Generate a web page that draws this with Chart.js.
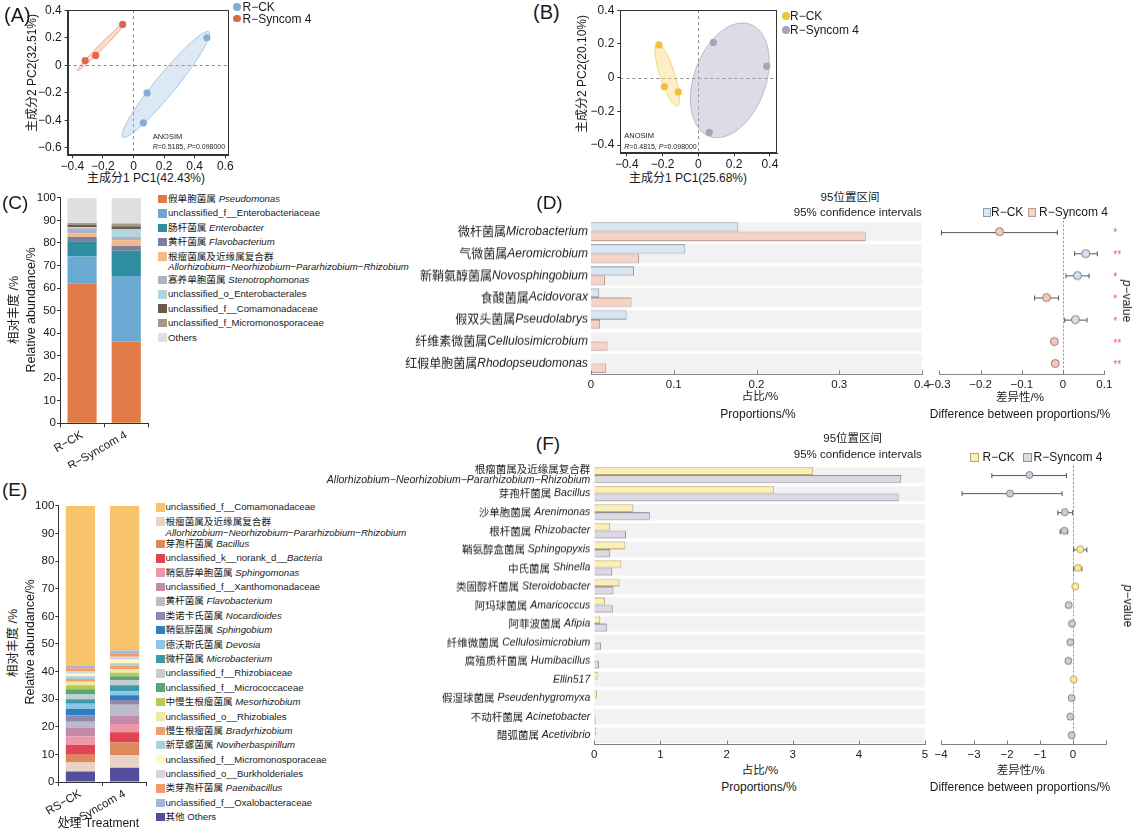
<!DOCTYPE html>
<html><head><meta charset="utf-8">
<script src="https://cdn.jsdelivr.net/npm/chart.js@4.4.1/dist/chart.umd.min.js"></script>
<style>
html,body{margin:0;padding:0;background:#fff;}
body{width:1134px;height:829px;position:relative;overflow:hidden;font-family:"Liberation Sans",Arial,"Noto Sans CJK SC",sans-serif;color:#1a1a1a;}
.box{position:absolute;}
.t{position:absolute;white-space:nowrap;line-height:1;}
.sq{position:absolute;box-sizing:border-box;}
</style></head><body>
<script>
// ================= DATA =================
// (A) PCA
const A_CK_X = [0.48, 0.089, 0.065];
const A_CK_Y = [0.20, -0.20, -0.417];
const A_SYN_X = [-0.071, -0.247, -0.316];
const A_SYN_Y = [0.297, 0.072, 0.035];
// (B) PCA
const B_CK_X = [-0.22, -0.19, -0.112];
const B_CK_Y = [0.194, -0.054, -0.085];
const B_SYN_X = [0.084, 0.382, 0.061];
const B_SYN_Y = [0.209, 0.068, -0.325];
// (C) stacked composition
const C_CATS = ['R\u2212CK', 'R\u2212Syncom 4'];
const C_LABELS = ['假单胞菌属 *Pseudomonas*', 'unclassified_f__Enterobacteriaceae', '肠杆菌属 *Enterobacter*', '黄杆菌属 *Flavobacterium*',
  '根瘤菌属及近缘属复合群\n*Allorhizobium\u2212Neorhizobium\u2212Pararhizobium\u2212Rhizobium*', '寡养单胞菌属 *Stenotrophomonas*',
  'unclassified_o_Enterobacterales', 'unclassified_f__Comamonadaceae', 'unclassified_f_Micromonosporaceae', 'Others'];
const C_CK = [62, 12, 6.8, 1.8, 1.6, 2.3, 0.5, 1.0, 0.9, 11.1];
const C_SYN = [36.3, 29, 11.3, 2.1, 2.5, 1.4, 3.6, 1.2, 1.2, 11.4];
const C_COLORS = ['#e07b47', '#6aa9d2', '#2e8da0', '#7c7f9b', '#f3b88b', '#aeb1c7', '#b3d5dd', '#6a5a4f', '#a49a8b', '#dedfdf'];
// (E) stacked composition (legend order)
const E_CATS = ['RS\u2212CK', 'RS\u2212Syncom 4'];
const E_LABELS = ['unclassified_f__Comamonadaceae', '根瘤菌属及近缘属复合群\n*Allorhizobium\u2212Neorhizobium\u2212Pararhizobium\u2212Rhizobium*',
  '芽孢杆菌属 *Bacillus*', 'unclassified_k__norank_d__*Bacteria*', '鞘氨醇单胞菌属 *Sphingomonas*', 'unclassified_f__Xanthomonadaceae',
  '黄杆菌属 *Flavobacterium*', '类诺卡氏菌属 *Nocardioides*', '鞘氨醇菌属 *Sphingobium*', '德沃斯氏菌属 *Devosia*', '微杆菌属 *Microbacterium*',
  'unclassified_f__Rhizobiaceae', 'unclassified_f__Micrococcaceae', '中慢生根瘤菌属 *Mesorhizobium*', 'unclassified_o__Rhizobiales',
  '慢生根瘤菌属 *Bradyrhizobium*', '新草螺菌属 *Noviherbaspirillum*', 'unclassified_f__Micromonosporaceae', 'unclassified_o__Burkholderiales',
  '类芽孢杆菌属 *Paenibacillus*', 'unclassified_f__Oxalobacteraceae', '其他 Others'];
const E_CK = [58.0, 3.3, 2.8, 3.5, 3.1, 3.2, 2.1, 2.3, 2.3, 1.9, 1.7, 1.7, 1.9, 1.4, 1.3, 1.0, 1.0, 0.9, 1.0, 1.0, 0.8, 3.8];
const E_SYN = [52.4, 4.6, 4.5, 3.7, 3.0, 3.0, 4.0, 1.7, 1.7, 1.5, 2.1, 1.9, 1.4, 1.3, 1.2, 1.3, 0.9, 1.3, 1.1, 1.2, 1.0, 5.2];
const E_COLORS = ['#f7c46c', '#e8d3c6', '#dc8a5a', '#e14552', '#ef97aa', '#c48aaa', '#bdbac9', '#8f89b0', '#2f7ec4', '#8cc6e7', '#3c9aaa',
  '#c6cdd1', '#5aa676', '#b7c956', '#f2e9a4', '#f0a070', '#a9d1dc', '#fdf8c8', '#d8d3e3', '#f39a6c', '#a3b8d8', '#534f9c'];
// (D) STAMP
const D_ZH = ['微杆菌属', '气微菌属', '新鞘氨醇菌属', '食酸菌属', '假双头菌属', '纤维素微菌属', '红假单胞菌属'];
const D_LA = ['Microbacterium', 'Aeromicrobium', 'Novosphingobium', 'Acidovorax', 'Pseudolabrys', 'Cellulosimicrobium', 'Rhodopseudomonas'];
const D_CK = [0.178, 0.114, 0.052, 0.010, 0.043, 0.0, 0.0];
const D_SYN = [0.332, 0.058, 0.017, 0.049, 0.011, 0.020, 0.018];
const D_DIFF = [-0.154, 0.055, 0.035, -0.040, 0.030, -0.021, -0.019];
const D_LO = [-0.295, 0.028, 0.007, -0.069, 0.004, -0.027, -0.022];
const D_HI = [-0.014, 0.083, 0.063, -0.011, 0.058, -0.015, -0.016];
const D_P = ['*', '**', '*', '*', '*', '**', '**'];
// (F) STAMP
const F_ZH = ['根瘤菌属及近缘属复合群', '芽孢杆菌属', '沙单胞菌属', '根杆菌属', '鞘氨醇盒菌属', '中氏菌属', '类固醇杆菌属', '阿玛球菌属',
  '阿菲波菌属', '纤维微菌属', '腐殖质杆菌属', '', '假湿球菌属', '不动杆菌属', '醋弧菌属'];
const F_LA = ['Allorhizobium\u2212Neorhizobium\u2212Pararhizobium\u2212Rhizobium', 'Bacillus', 'Arenimonas', 'Rhizobacter', 'Sphingopyxis', 'Shinella',
  'Steroidobacter', 'Amaricoccus', 'Afipia', 'Cellulosimicrobium', 'Humibacillus', 'Ellin517', 'Pseudenhygromyxa', 'Acinetobacter', 'Acetivibrio'];
const F_CK = [3.31, 2.72, 0.59, 0.24, 0.47, 0.41, 0.38, 0.16, 0.09, 0.0, 0.0, 0.05, 0.04, 0.01, 0.03];
const F_SYN = [4.64, 4.60, 0.84, 0.48, 0.24, 0.27, 0.29, 0.28, 0.19, 0.10, 0.07, 0.0, 0.0, 0.02, 0.0];
const F_DIFF = [-1.32, -1.91, -0.25, -0.26, 0.22, 0.15, 0.07, -0.13, -0.03, -0.08, -0.14, 0.02, -0.04, -0.08, -0.04];
const F_LO = [-2.46, -3.36, -0.46, -0.39, 0.02, 0.02, 0.05, -0.15, -0.05, -0.10, -0.16, 0.00, -0.06, -0.10, -0.06];
const F_HI = [-0.20, -0.33, -0.01, -0.16, 0.42, 0.27, 0.09, -0.11, -0.01, -0.06, -0.12, 0.04, -0.02, -0.06, -0.02];

// ================= HELPERS =================
const FONT = '"Liberation Sans", Arial, "Noto Sans CJK SC", sans-serif';
Chart.defaults.font.family = FONT;
Chart.defaults.color = '#1a1a1a';
const ELL_K = 1.23;
const MINUS = '\u2212';

function mkCanvas(l, t, w, h) {
  const d = document.createElement('div'); d.className = 'box';
  d.style.cssText = `left:${l}px;top:${t}px;width:${w}px;height:${h}px`;
  const c = document.createElement('canvas'); d.appendChild(c); document.body.appendChild(d); return c;
}
function T(html, x, y, o = {}) {
  const e = document.createElement('div'); e.className = 't'; e.innerHTML = html;
  e.style.fontSize = (o.size || 11) + 'px'; e.style.left = x + 'px'; e.style.top = y + 'px';
  const tx = o.align === 'center' ? '-50%' : o.align === 'right' ? '-100%' : '0';
  e.style.transform = o.rot ? `translate(-50%,-50%) rotate(${o.rot}deg)` : `translate(${tx},-50%)`;
  if (o.color) e.style.color = o.color;
  if (o.weight) e.style.fontWeight = o.weight;
  document.body.appendChild(e); return e;
}
function SQ(x, y, w, h, fill, border, radius) {
  const e = document.createElement('div'); e.className = 'sq';
  e.style.cssText = `left:${x}px;top:${y}px;width:${w}px;height:${h}px;background:${fill};` +
    (border ? `border:1px solid ${border};` : '') + (radius ? `border-radius:${radius};` : '');
  document.body.appendChild(e);
}
function md(s) { return s.replace(/\*(.+?)\*/g, '<i>$1</i>'); }
function fmt1(v) { const r = Math.round(v * 10) / 10; if (Math.abs(r) < 1e-9) return '0'; return r.toFixed(1).replace('-', MINUS); }
function fmt0(v) { const r = Math.round(v); if (r === 0) return '0'; return String(r).replace('-', MINUS); }
const baseOpts = { responsive: true, maintainAspectRatio: false, animation: false, events: [] };

// ================= PCA (A, B) =================
function pca(o) {
  const c = mkCanvas(o.l, o.t, o.w, o.h);
  const zeroPlugin = { id: 'zero', beforeDatasetsDraw(ch) {
    const { ctx, chartArea: a, scales: { x, y } } = ch; ctx.save();
    ctx.strokeStyle = '#8a8a8a'; ctx.lineWidth = 1; ctx.setLineDash([3, 3]);
    const px = Math.round(x.getPixelForValue(0)) + 0.5, py = Math.round(y.getPixelForValue(0)) + 0.5;
    ctx.beginPath(); ctx.moveTo(px, a.top); ctx.lineTo(px, a.bottom); ctx.moveTo(a.left, py); ctx.lineTo(a.right, py); ctx.stroke();
    ctx.restore(); } };
  const ellPlugin = { id: 'ell', beforeDatasetsDraw(ch) {
    const { ctx, chartArea: a, scales: { x, y } } = ch; ctx.save();
    ctx.beginPath(); ctx.rect(a.left, a.top, a.width, a.height); ctx.clip();
    o.groups.forEach(g => {
      const n = g.x.length;
      const mx = g.x.reduce((s, v) => s + v, 0) / n, my = g.y.reduce((s, v) => s + v, 0) / n;
      let sxx = 0, syy = 0, sxy = 0;
      for (let i = 0; i < n; i++) { const dx = g.x[i] - mx, dy = g.y[i] - my; sxx += dx * dx; syy += dy * dy; sxy += dx * dy; }
      sxx /= (n - 1); syy /= (n - 1); sxy /= (n - 1);
      const th = 0.5 * Math.atan2(2 * sxy, sxx - syy);
      const m = (sxx + syy) / 2, d = Math.sqrt(((sxx - syy) / 2) ** 2 + sxy * sxy);
      const ra = ELL_K * Math.sqrt(m + d), rb = ELL_K * Math.sqrt(Math.max(m - d, 0));
      ctx.beginPath();
      for (let s = 0; s <= 160; s++) {
        const t = s / 160 * 2 * Math.PI;
        const ex = mx + ra * Math.cos(t) * Math.cos(th) - rb * Math.sin(t) * Math.sin(th);
        const ey = my + ra * Math.cos(t) * Math.sin(th) + rb * Math.sin(t) * Math.cos(th);
        const px = x.getPixelForValue(ex), py = y.getPixelForValue(ey);
        s ? ctx.lineTo(px, py) : ctx.moveTo(px, py);
      }
      ctx.closePath(); ctx.fillStyle = g.fill; ctx.fill(); ctx.strokeStyle = g.stroke; ctx.lineWidth = 0.8; ctx.stroke();
    });
    ctx.restore(); } };
  const framePlugin = { id: 'frame', afterDraw(ch) {
    const { ctx, chartArea: a } = ch; ctx.save(); ctx.strokeStyle = '#333'; ctx.lineWidth = 1;
    ctx.strokeRect(Math.round(a.left) + 0.5, Math.round(a.top) + 0.5, Math.round(a.width) - 1, Math.round(a.height) - 1); ctx.restore(); } };
  const axisCommon = { grid: { display: true, drawOnChartArea: false, drawTicks: true, tickLength: 3, color: '#333' }, border: { color: '#333' } };
  new Chart(c, {
    type: 'scatter',
    data: { datasets: o.groups.map(g => ({ data: g.x.map((v, i) => ({ x: v, y: g.y[i] })), pointRadius: 3.6, pointBackgroundColor: g.color, pointBorderWidth: 0 })) },
    options: Object.assign({}, baseOpts, {
      layout: { padding: { top: o.padT, right: o.padR, left: 0, bottom: 0 } },
      plugins: { legend: { display: false }, tooltip: { enabled: false } },
      scales: {
        x: Object.assign({ type: 'linear', min: o.xmin, max: o.xmax, afterFit: s => { s.height = o.xh; },
          ticks: { stepSize: 0.2, includeBounds: false, callback: v => fmt1(v), font: { size: 12 }, padding: 1, maxRotation: 0, autoSkip: false } }, axisCommon),
        y: Object.assign({ type: 'linear', min: o.ymin, max: o.ymax, afterFit: s => { s.width = o.yw; },
          ticks: { stepSize: 0.2, includeBounds: false, callback: v => fmt1(v), font: { size: 12 }, padding: 3, autoSkip: false } }, axisCommon)
      }
    }),
    plugins: [zeroPlugin, ellPlugin, framePlugin]
  });
}
pca({ l: 20, t: 0, w: 216, h: 170, padT: 4.7, padR: 7.7, xh: 14.7, yw: 47.7, xmin: -0.43, xmax: 0.62, ymin: -0.653, ymax: 0.4,
  groups: [
    { x: A_CK_X, y: A_CK_Y, color: '#86acd8', fill: 'rgba(150,188,224,0.33)', stroke: 'rgba(120,160,205,0.7)' },
    { x: A_SYN_X, y: A_SYN_Y, color: '#e0674a', fill: 'rgba(238,150,120,0.33)', stroke: 'rgba(224,103,74,0.7)' }] });
pca({ l: 588, t: 0, w: 195.3, h: 168, padT: 4.7, padR: 6, xh: 14.7, yw: 32.3, xmin: -0.436, xmax: 0.441, ymin: -0.449, ymax: 0.4,
  groups: [
    { x: B_CK_X, y: B_CK_Y, color: '#f5c03e', fill: 'rgba(248,220,130,0.45)', stroke: 'rgba(240,190,60,0.8)' },
    { x: B_SYN_X, y: B_SYN_Y, color: '#a9a3b8', fill: 'rgba(180,175,200,0.45)', stroke: 'rgba(150,145,170,0.7)' }] });

// PCA texts
T('(A)', 4, 15, { size: 20 });
T('(B)', 533, 12, { size: 20 });
SQ(233.3, 3.3, 7.4, 7.4, '#86acd8', null, '50%'); T('R' + MINUS + 'CK', 242.5, 7.2, { size: 12 });
SQ(233.3, 15, 7.4, 7.4, '#e0674a', null, '50%'); T('R' + MINUS + 'Syncom 4', 242.5, 18.8, { size: 12 });
SQ(782, 12, 7.6, 7.6, '#f5c03e', null, '50%'); T('R' + MINUS + 'CK', 790, 15.8, { size: 12 });
SQ(782, 26.2, 7.6, 7.6, '#a9a3b8', null, '50%'); T('R' + MINUS + 'Syncom 4', 790, 30, { size: 12 });
T('主成分1 PC1(42.43%)', 146, 178.3, { size: 12, align: 'center' });
T('主成分2 PC2(32.51%)', 31.5, 73, { size: 12, rot: -90 });
T('主成分1 PC1(25.68%)', 688, 178, { size: 12, align: 'center' });
T('主成分2 PC2(20.10%)', 581.5, 74, { size: 12, rot: -90 });
T('ANOSIM', 152.7, 136.7, { size: 7.5 });
T('<i>R</i>=0.5185, <i>P</i>=0.098000', 152.7, 146, { size: 7 });
T('ANOSIM', 624.3, 136.3, { size: 7.5 });
T('<i>R</i>=0.4815, <i>P</i>=0.098000', 624.3, 145.7, { size: 7 });

// ================= STACKED (C, E) =================
function stacked(o) {
  const c = mkCanvas(o.l, o.t, o.w, o.h);
  new Chart(c, {
    type: 'bar',
    data: { labels: o.cats, datasets: o.order.map(i => ({ label: o.labels[i], data: [o.a[i], o.b[i]], backgroundColor: o.colors[i], borderWidth: 0, barPercentage: 0.66, categoryPercentage: 1 })) },
    options: Object.assign({}, baseOpts, {
      layout: { padding: { top: o.padT, right: o.padR, left: 0, bottom: 0 } },
      plugins: { legend: { display: false }, tooltip: { enabled: false } },
      scales: {
        x: { stacked: true, afterFit: s => { s.height = o.xh; }, ticks: { minRotation: 30, maxRotation: 30, font: { size: 11.5 }, padding: 1, autoSkip: false },
          grid: { display: true, drawOnChartArea: false, tickLength: 4, color: '#333' }, border: { color: '#333' } },
        y: { stacked: true, min: 0, max: 100, afterFit: s => { s.width = o.yw; }, ticks: { stepSize: 10, font: { size: 11.5 }, padding: 1 },
          grid: { display: true, drawOnChartArea: false, tickLength: 3, color: '#333' }, border: { color: '#333' } }
      }
    })
  });
}
function legendBlock(labels, colors, sqX, txtX, y0, step, extra, lat) {
  let y = y0;
  labels.forEach((lab, i) => {
    const lines = lab.split('\n');
    SQ(sqX, y - 4.3, 8.5, 8.5, colors[i]);
    T(md(lines[0]), txtX, y, { size: 9.6 });
    if (lines.length > 1) { T(md(lines[1]), txtX, y + lat, { size: 9.6 }); y += extra; }
    y += step;
  });
}
stacked({ l: 35, t: 190, w: 116, h: 278.3, padT: 6.7, padR: 2.7, xh: 45, yw: 25, cats: C_CATS, labels: C_LABELS, colors: C_COLORS,
  a: C_CK, b: C_SYN, order: C_LABELS.map((_, i) => i) });
const E_ORDER = [E_LABELS.length - 1].concat(E_LABELS.map((_, i) => i).slice(1, E_LABELS.length - 1), [0]);
stacked({ l: 33, t: 498, w: 116, h: 324, padT: 6, padR: 2.3, xh: 40, yw: 25.3, cats: E_CATS, labels: E_LABELS, colors: E_COLORS,
  a: E_CK, b: E_SYN, order: E_ORDER });
legendBlock(C_LABELS, C_COLORS, 158.3, 168, 199, 14.4, 8.9, 10.6);
legendBlock(E_LABELS, E_COLORS, 156, 165.5, 507.3, 14.38, 7.9, 11);
T('(C)', 2, 202, { size: 19 });
T('(E)', 2, 489, { size: 19 });
T('相对丰度 /%', 14.3, 310, { size: 12.5, rot: -90 });
T('Relative abundance/%', 31.3, 310, { size: 12.5, rot: -90 });
T('相对丰度 /%', 13.3, 643.3, { size: 12.5, rot: -90 });
T('Relative abundance/%', 30, 641.7, { size: 12.5, rot: -90 });
T('处理 Treatment', 98.3, 823.3, { size: 12, align: 'center' });

// ================= STAMP (D, F) =================
function bandPlugin(frac) {
  return { id: 'bands', beforeDatasetsDraw(ch) {
    const { ctx, chartArea: a, scales: { y } } = ch; const n = ch.data.labels ? ch.data.labels.length : ch.data.datasets[0].data.length;
    const sp = Math.abs(y.getPixelForValue(1) - y.getPixelForValue(0)); const h = sp * frac;
    ctx.save(); ctx.fillStyle = '#f2f2f2';
    for (let i = 0; i < n; i++) { const yc = y.getPixelForValue(i); ctx.fillRect(a.left, yc - h / 2, a.width, h); }
    ctx.restore(); } };
}
const innerTicks = { id: 'itick', afterDraw(ch) {
  const { ctx, chartArea: a, scales: { x } } = ch; ctx.save(); ctx.strokeStyle = '#808080'; ctx.lineWidth = 1;
  x.ticks.forEach(t => { const px = Math.round(x.getPixelForValue(t.value)) + 0.5; ctx.beginPath(); ctx.moveTo(px, a.bottom); ctx.lineTo(px, a.bottom - 4); ctx.stroke(); });
  ctx.restore(); } };
function labelPlugin(zh, la, size, spaced, gap, maxW) {
  return { id: 'ylab', afterDraw(ch) {
    const { ctx, chartArea: a, scales: { y } } = ch; ctx.save(); ctx.textBaseline = 'middle'; ctx.fillStyle = '#1a1a1a'; ctx.textAlign = 'left';
    const fz = `${size}px "Noto Sans CJK SC", sans-serif`, fl = `italic ${size}px "Liberation Sans", Arial, sans-serif`;
    const xr = a.left - gap;
    zh.forEach((z, i) => {
      const l = la[i]; const yc = y.getPixelForValue(i);
      ctx.font = fz; const wz = z ? ctx.measureText(z).width : 0;
      ctx.font = fl; const wl = l ? ctx.measureText(l).width : 0; const sp = (z && l && spaced) ? ctx.measureText(' ').width : 0;
      const tot = wz + sp + wl;
      if (z && l && tot > maxW) {
        ctx.font = fz; ctx.fillText(z, xr - wz, yc - 6);
        ctx.font = fl; ctx.fillText(l, xr - wl, yc + 5);
      } else {
        const x0 = xr - tot;
        if (z) { ctx.font = fz; ctx.fillText(z, x0, yc); }
        if (l) { ctx.font = fl; ctx.fillText(l, x0 + wz + sp, yc); }
      }
    });
    ctx.restore(); } };
}
const flatX = { grid: { display: false, drawTicks: false, tickLength: 0 }, border: { color: '#808080' } };
function propChart(o) {
  const c = mkCanvas(o.l, o.t, o.w, o.h);
  new Chart(c, {
    type: 'bar',
    data: { labels: o.zh.map((z, i) => (z + ' ' + o.la[i]).trim()), datasets: [
      { data: o.ck, backgroundColor: o.ckFill, borderColor: o.ckLine, borderWidth: 1, categoryPercentage: o.band, barPercentage: 1 },
      { data: o.syn, backgroundColor: o.synFill, borderColor: o.synLine, borderWidth: 1, categoryPercentage: o.band, barPercentage: 1 }] },
    options: Object.assign({}, baseOpts, {
      indexAxis: 'y',
      layout: { padding: { left: o.padL, top: o.padT, right: o.padR, bottom: 0 } },
      plugins: { legend: { display: false }, tooltip: { enabled: false } },
      scales: {
        x: Object.assign({ type: 'linear', min: 0, max: o.max, afterFit: s => { s.height = 16; },
          ticks: { stepSize: o.step, callback: o.fmt, font: { size: 11.5 }, padding: 3, maxRotation: 0, autoSkip: false } }, flatX),
        y: { display: false }
      }
    }),
    plugins: [bandPlugin(o.band), innerTicks, labelPlugin(o.zh, o.la, o.fs, o.spaced, o.gap, o.maxW)]
  });
}
function diffChart(o) {
  const c = mkCanvas(o.l, o.t, o.w, o.h);
  const n = o.diff.length;
  const zeroDot = { id: 'zd', beforeDatasetsDraw(ch) {
    const { ctx, chartArea: a, scales: { x } } = ch; const px = Math.round(x.getPixelForValue(0)) + 0.5;
    ctx.save(); ctx.strokeStyle = '#8c8c8c'; ctx.lineWidth = 1; ctx.setLineDash([2, 2]);
    ctx.beginPath(); ctx.moveTo(px, a.top); ctx.lineTo(px, a.bottom); ctx.stroke(); ctx.restore(); } };
  const errPlugin = { id: 'err', beforeDatasetsDraw(ch) {
    const { ctx, scales: { x, y } } = ch; ctx.save(); ctx.strokeStyle = '#555'; ctx.lineWidth = 1;
    for (let i = 0; i < n; i++) {
      const yc = Math.round(y.getPixelForValue(i)) + 0.5, x1 = x.getPixelForValue(o.lo[i]), x2 = x.getPixelForValue(o.hi[i]);
      ctx.beginPath(); ctx.moveTo(x1, yc); ctx.lineTo(x2, yc);
      ctx.moveTo(x1, yc - 2.5); ctx.lineTo(x1, yc + 2.5); ctx.moveTo(x2, yc - 2.5); ctx.lineTo(x2, yc + 2.5); ctx.stroke();
    }
    ctx.restore(); } };
  const starPlugin = { id: 'stars', afterDraw(ch) {
    if (!o.p) return;
    const { ctx, chartArea: a, scales: { y } } = ch; ctx.save(); ctx.fillStyle = '#ef4f4f'; ctx.font = '10px "Liberation Sans", Arial, sans-serif';
    ctx.textAlign = 'left'; ctx.textBaseline = 'middle';
    o.p.forEach((s, i) => ctx.fillText(s, a.right + 9, y.getPixelForValue(i) + 2));
    ctx.restore(); } };
  new Chart(c, {
    type: 'scatter',
    data: { datasets: [{ data: o.diff.map((d, i) => ({ x: d, y: i })), pointRadius: o.r,
      pointBackgroundColor: o.diff.map(d => d > 0 ? o.ckPt : o.synPt), pointBorderColor: o.diff.map(d => d > 0 ? o.ckPtLine : o.synPtLine), pointBorderWidth: 0.8 }] },
    options: Object.assign({}, baseOpts, {
      layout: { padding: { left: o.padL, top: o.padT, right: o.padR, bottom: 0 } },
      plugins: { legend: { display: false }, tooltip: { enabled: false } },
      scales: {
        x: Object.assign({ type: 'linear', min: o.min, max: o.max, afterFit: s => { s.height = 16; },
          ticks: { stepSize: o.step, includeBounds: false, callback: o.fmt, font: { size: 11.5 }, padding: 3, maxRotation: 0, autoSkip: false } }, flatX),
        y: { type: 'linear', display: false, min: -0.5, max: n - 0.5, reverse: true }
      }
    }),
    plugins: [bandPlugin(o.band), zeroDot, errPlugin, innerTicks, starPlugin]
  });
}
// D
const D_COL = { ckFill: '#dae6f2', ckLine: '#8e9aa6', synFill: '#f5d3c7', synLine: '#b59a92' };
propChart(Object.assign({ l: 360, t: 215, w: 573, h: 174.5, padL: 231, padT: 5.7, padR: 10.3, zh: D_ZH, la: D_LA, ck: D_CK, syn: D_SYN,
  band: 0.86, max: 0.4, step: 0.1, fmt: v => fmt1(v), fs: 12, spaced: false, gap: 3, maxW: 9999 }, D_COL));
diffChart({ l: 925, t: 215, w: 209, h: 174.5, padL: 13.3, padT: 5.7, padR: 29.7, diff: D_DIFF, lo: D_LO, hi: D_HI, p: D_P,
  band: 0.86, min: -0.3, max: 0.1, step: 0.1, fmt: v => fmt1(v), r: 4,
  ckPt: '#d3e2f0', ckPtLine: '#5f6b78', synPt: '#f3c8b8', synPtLine: '#7b6a66' });
T('(D)', 549.5, 202, { size: 19, align: 'center' });
T('95位置区间', 850, 197.7, { size: 11.5, align: 'center' });
T('95% confidence intervals', 921.7, 213.3, { size: 11.5, align: 'right' });
SQ(982.7, 208, 8.5, 8.5, D_COL.ckFill, '#8e9aa6'); T('R' + MINUS + 'CK', 991, 212.3, { size: 12 });
SQ(1027.7, 208, 8.5, 8.5, D_COL.synFill, '#b59a92'); T('R' + MINUS + 'Syncom 4', 1039, 212.3, { size: 12 });
T('占比/%', 760, 397.3, { size: 11.5, align: 'center' });
T('Proportions/%', 758, 413.8, { size: 12, align: 'center' });
T('差异性/%', 1020, 397.7, { size: 11.5, align: 'center' });
T('Difference between proportions/%', 1020, 414, { size: 12, align: 'center' });
T('<i>p</i>' + MINUS + 'value', 1126.7, 301, { size: 12, rot: 90 });
// F
const F_COL = { ckFill: '#fbefb8', ckLine: '#b9a86a', synFill: '#dcd8e4', synLine: '#8f8b9c' };
propChart(Object.assign({ l: 270, t: 460, w: 663, h: 299.5, padL: 324.3, padT: 5.7, padR: 8, zh: F_ZH, la: F_LA, ck: F_CK, syn: F_SYN,
  band: 0.83, max: 5, step: 1, fmt: v => fmt0(v), fs: 10.5, spaced: true, gap: 4, maxW: 300 }, F_COL));
diffChart({ l: 930, t: 460, w: 204, h: 299.5, padL: 11, padT: 5.7, padR: 28, diff: F_DIFF, lo: F_LO, hi: F_HI, p: null,
  band: 0.83, min: -4, max: 1, step: 1, fmt: v => (Math.round(v) === 1 ? '' : fmt0(v)), r: 3.5,
  ckPt: '#fbeaa6', ckPtLine: '#a8934a', synPt: '#cfcbdb', synPtLine: '#6e6b7c' });
T('(F)', 548, 443, { size: 19, align: 'center' });
T('95位置区间', 852.7, 439, { size: 11.5, align: 'center' });
T('95% confidence intervals', 921.7, 455, { size: 11.5, align: 'right' });
SQ(970, 452.8, 9, 9, F_COL.ckFill, '#b9a86a'); T('R' + MINUS + 'CK', 982.5, 457.3, { size: 12 });
SQ(1023.3, 452.8, 9, 9, F_COL.synFill, '#8f8b9c'); T('R' + MINUS + 'Syncom 4', 1033.5, 457.3, { size: 12 });
T('占比/%', 760, 770.7, { size: 11.5, align: 'center' });
T('Proportions/%', 759, 786.7, { size: 12, align: 'center' });
T('差异性/%', 1020.7, 770.7, { size: 11.5, align: 'center' });
T('Difference between proportions/%', 1020, 786.7, { size: 12, align: 'center' });
T('<i>p</i>' + MINUS + 'value', 1128, 606, { size: 12, rot: 90 });
</script>
</body></html>
